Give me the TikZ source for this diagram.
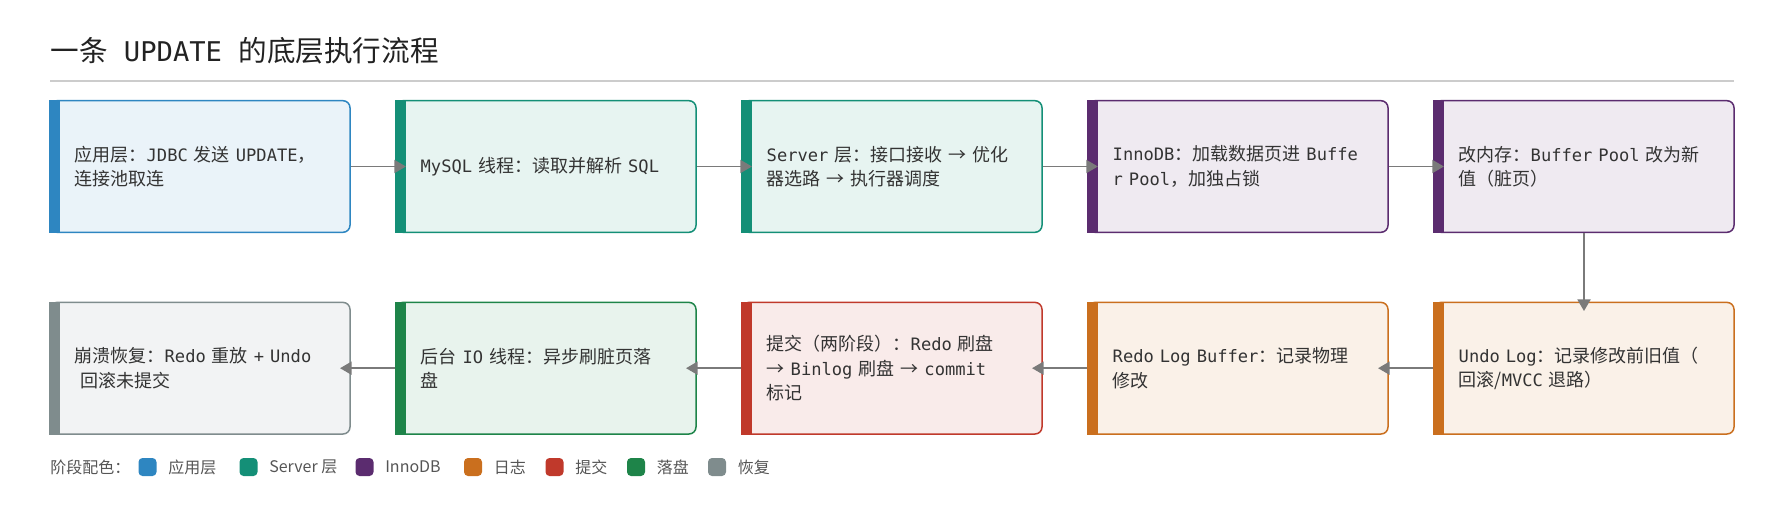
\documentclass[tikz,border=0pt]{standalone}
\usepackage{fontspec}
\setmainfont{Noto Sans CJK SC}
\newfontfamily\monofam{DejaVu Sans Mono}[Scale=0.95]
\newcommand{\mtxt}[1]{{\monofam #1}}
\usetikzlibrary{arrows.meta,positioning}

\definecolor{appblue}{HTML}{2E86C1}
\definecolor{srvteal}{HTML}{148F77}
\definecolor{innopurple}{HTML}{5B2C6F}
\definecolor{logorange}{HTML}{CA6F1E}
\definecolor{commitred}{HTML}{C0392B}
\definecolor{diskgreen}{HTML}{1E8449}
\definecolor{recgray}{HTML}{7F8C8D}
\definecolor{flowgray}{HTML}{7A7A7A}
\definecolor{rulegray}{HTML}{CCCCCC}
\definecolor{textdark}{HTML}{333333}
\definecolor{titledark}{HTML}{222222}
\definecolor{leggray}{HTML}{555555}

\tikzset{
  stage/.style={draw=#1, fill=#1!10, line width=0.75pt, rounded corners=3.5pt,
    minimum height=65.8pt, text width=125.3pt, inner xsep=12.35pt, inner ysep=0pt,
    align=left, text=textdark, font=\fontsize{9pt}{12.15pt}\selectfont},
  flow/.style={draw=flowgray, line width=0.9pt, -{Triangle[length=5.8pt,width=6.5pt]}},
  swatch/.style={fill=#1, rounded corners=2pt, minimum size=9pt, inner sep=0pt},
  legtext/.style={text=leggray, inner sep=0pt, font=\fontsize{8pt}{10pt}\selectfont},
}

\begin{document}
\begin{tikzpicture}[x=0.5pt, y=-0.5pt, line join=round]
  \useasboundingbox (0,0) rectangle (1784,514);

  % title
  \node[anchor=west, inner sep=0pt, text=titledark, font=\fontsize{14.3pt}{17pt}\selectfont] (title) at (50,51)
    {一条\mtxt{~UPDATE~}的底层执行流程};
  \draw[rulegray, line width=1pt] (50,81) -- (1734,81);

  % first row
  \node[stage=appblue] (s1) at (200,166.5) {应用层：\mtxt{JDBC~}发送\mtxt{~UPDATE}，\\连接池取连};
  \node[stage=srvteal] (s2) at (546,166.5) {\mtxt{MySQL~}线程：读取并解析\mtxt{~SQL}};
  \node[stage=srvteal] (s3) at (892,166.5) {\mtxt{Server~}层：接口接收\mtxt{~}→\mtxt{~}优化\\器选路\mtxt{~}→\mtxt{~}执行器调度};
  \node[stage=innopurple] (s4) at (1238,166.5) {\mtxt{InnoDB}：加载数据页进\mtxt{~Buffe}\\\mtxt{r~Pool}，加独占锁};
  \node[stage=innopurple] (s5) at (1584,166.5) {改内存：\mtxt{Buffer~Pool~}改为新\\值（脏页）};

  % second row
  \node[stage=recgray] (s6) at (200,368.2) {崩溃恢复：\mtxt{Redo~}重放\mtxt{~+~Undo}\\\mtxt{~}回滚未提交};
  \node[stage=diskgreen] (s7) at (546,368.2) {后台\mtxt{~IO~}线程：异步刷脏页落\\盘};
  \node[stage=commitred] (s8) at (892,368.2) {提交（两阶段）：\mtxt{Redo~}刷盘\\→\mtxt{~Binlog~}刷盘\mtxt{~}→\mtxt{~commit}\\标记};
  \node[stage=logorange] (s9) at (1238,368.2) {\mtxt{Redo~Log~Buffer}：记录物理\\修改};
  \node[stage=logorange] (s10) at (1584,368.2) {\mtxt{Undo~Log}：记录修改前旧值（\\回滚/\mtxt{MVCC~}退路）};

  % accent bars
  \foreach \n/\c in {s1/appblue, s2/srvteal, s3/srvteal, s4/innopurple, s5/innopurple,
                     s6/recgray, s7/diskgreen, s8/commitred, s9/logorange, s10/logorange}
    \fill[\c] (\n.north west) rectangle ([xshift=5.35pt]\n.south west);

  % flow
  \draw[flow] (s1.east) -- ([xshift=5.35pt]s2.west);
  \draw[flow] (s2.east) -- ([xshift=5.35pt]s3.west);
  \draw[flow] (s3.east) -- ([xshift=5.35pt]s4.west);
  \draw[flow] (s4.east) -- ([xshift=5.35pt]s5.west);
  \draw[flow] (s5.south) -- ([yshift=-4.7pt]s10.north);
  \draw[flow] (s10.west) -- ([xshift=-5.35pt]s9.east);
  \draw[flow] (s9.west) -- ([xshift=-5.35pt]s8.east);
  \draw[flow] (s8.west) -- ([xshift=-5.35pt]s7.east);
  \draw[flow] (s7.west) -- ([xshift=-5.35pt]s6.east);

  % legend
  \node[legtext, anchor=west] (leg) at (50,467) {阶段配色：};
  \node[swatch=appblue] (k1) at (147.5,467) {};
  \node[legtext, right=5.5pt of k1] (t1) {应用层};
  \node[swatch=srvteal] (k2) at (248.5,467) {};
  \node[legtext, right=5.5pt of k2] (t2) {Server 层};
  \node[swatch=innopurple] (k3) at (364.5,467) {};
  \node[legtext, right=5.5pt of k3] (t3) {InnoDB};
  \node[swatch=logorange] (k4) at (473,467) {};
  \node[legtext, right=5.5pt of k4] (t4) {日志};
  \node[swatch=commitred] (k5) at (554.5,467) {};
  \node[legtext, right=5.5pt of k5] (t5) {提交};
  \node[swatch=diskgreen] (k6) at (636,467) {};
  \node[legtext, right=5.5pt of k6] (t6) {落盘};
  \node[swatch=recgray] (k7) at (717,467) {};
  \node[legtext, right=5.5pt of k7] (t7) {恢复};
\end{tikzpicture}
\end{document}
